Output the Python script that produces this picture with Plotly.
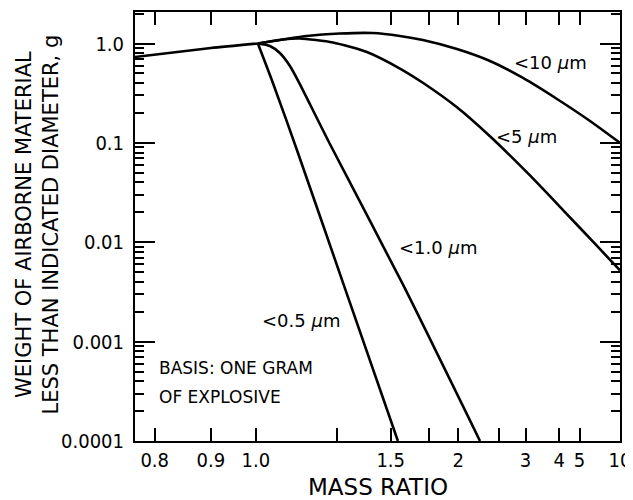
import plotly.graph_objects as go

# ---- data (mass ratio vs weight of airborne material, g) ----
common_x = [0.77, 0.90, 1.005]
common_y = [0.731, 0.90, 1.0]

um05_x = [1.005, 1.044, 1.113, 1.2945, 1.541]
um05_y = [1.0, 0.401, 0.0849, 0.00282, 0.0001]

um10_x = [1.005, 1.036, 1.063, 1.092, 1.122, 1.154, 1.224, 1.571, 2.242]
um10_y = [1.0, 0.944, 0.802, 0.594, 0.391, 0.246, 0.0975, 0.00376, 0.0001]

um5_x = [1.005, 1.0715, 1.122, 1.235, 1.378, 1.553, 1.703, 1.988, 2.373, 3.101, 4.152, 6.378, 10.0]
um5_y = [1.0, 1.097, 1.123, 1.023, 0.821, 0.560, 0.4024, 0.228, 0.1165, 0.0470, 0.0211, 0.00918, 0.0052]

um100_x = [1.005, 1.0715, 1.144, 1.262, 1.407, 1.553, 1.703, 1.988, 2.373, 2.943, 3.911, 5.744, 10.0]
um100_y = [1.0, 1.097, 1.190, 1.260, 1.275, 1.190, 1.084, 0.880, 0.667, 0.450, 0.2765, 0.166, 0.1]

x_tick_vals = [0.8, 0.9, 1.0, 1.25, 1.5, 1.75, 2, 2.5, 3, 4, 5, 10]
x_tick_text = ["0.8", "0.9", "1.0", "", "1.5", "", "2", "", "3", "4", "5", "10"]
y_tick_vals = [1, 0.1, 0.01, 0.001, 0.0001]
y_tick_text = ["1.0", "0.1", "0.01", "0.001", "0.0001"]

x_min, x_max = 0.77, 10.0
y_log_range = [-4, 0.317]


def recip(vals):
    # reciprocal mass-ratio scale used by the original chart
    return [-1.0 / v for v in vals]


COND = "DejaVu Sans Condensed, Liberation Sans Narrow, sans-serif"
REG = "DejaVu Sans, sans-serif"

fig = go.Figure()
line = dict(color="black", width=2.6, shape="spline", smoothing=0.6)
for xs, ys in [(common_x, common_y), (um05_x, um05_y), (um10_x, um10_y),
               (um5_x, um5_y), (um100_x, um100_y)]:
    fig.add_trace(go.Scatter(x=recip(xs), y=ys, mode="lines", line=line,
                             showlegend=False, hoverinfo="skip"))

fig.update_layout(
    width=625, height=492,
    margin=dict(l=127, r=13, t=4, b=59, autoexpand=False),
    paper_bgcolor="white", plot_bgcolor="white",
    font=dict(family=COND, size=20, color="black"),
    showlegend=False,
    xaxis=dict(
        type="linear", automargin=False,
        range=[-1.0 / x_min, -1.0 / x_max],
        tickmode="array", tickvals=recip(x_tick_vals), ticktext=x_tick_text,
        ticks="inside", ticklen=13, tickwidth=2, tickcolor="#000000",
        showline=True, linecolor="#000000", linewidth=2, mirror="ticks",
        showgrid=False, zeroline=False,
        tickfont=dict(size=20, family=COND),
    ),
    yaxis=dict(
        type="log", automargin=False,
        range=y_log_range,
        tickmode="array", tickvals=y_tick_vals, ticktext=y_tick_text,
        ticks="inside", ticklen=20, tickwidth=2, tickcolor="#000000",
        minor=dict(dtick="D1", ticks="inside", ticklen=9, tickwidth=1.5,
                   tickcolor="#000000", showgrid=False),
        showline=True, linecolor="#000000", linewidth=2, mirror="ticks",
        showgrid=False, zeroline=False, ticklabelstandoff=5,
        tickfont=dict(size=20, family=COND),
    ),
)

# axis titles
fig.add_annotation(text="WEIGHT OF AIRBORNE MATERIAL<br>LESS THAN INDICATED DIAMETER, g",
                   x=-0.201, y=0.5035, xref="paper", yref="paper",
                   xanchor="center", yanchor="middle", textangle=-90,
                   showarrow=False, font=dict(size=21, family=REG))
fig.add_annotation(text="MASS RATIO", x=0.501, y=-0.107, xref="paper", yref="paper",
                   xanchor="center", yanchor="middle", showarrow=False,
                   font=dict(size=23, family=REG))

ann = [
    ("<10 <i>μ</i>m", 0.856, 0.883),
    ("<5 <i>μ</i>m", 0.808, 0.709),
    ("<1.0 <i>μ</i>m", 0.624, 0.452),
    ("<0.5 <i>μ</i>m", 0.342, 0.282),
]
for text, xp, yp in ann:
    fig.add_annotation(text=text, x=xp, y=yp, xref="paper", yref="paper",
                       xanchor="center", yanchor="middle", showarrow=False,
                       font=dict(size=18, family=REG))

fig.add_annotation(text="BASIS: ONE GRAM", x=0.045, y=(441 - 368) / 429,
                   xref="paper", yref="paper", xanchor="left", yanchor="middle",
                   showarrow=False, font=dict(size=17, family=REG))
fig.add_annotation(text="OF EXPLOSIVE", x=0.045, y=(441 - 397) / 429,
                   xref="paper", yref="paper", xanchor="left", yanchor="middle",
                   showarrow=False, font=dict(size=17, family=REG))

fig.write_html("out.html")
